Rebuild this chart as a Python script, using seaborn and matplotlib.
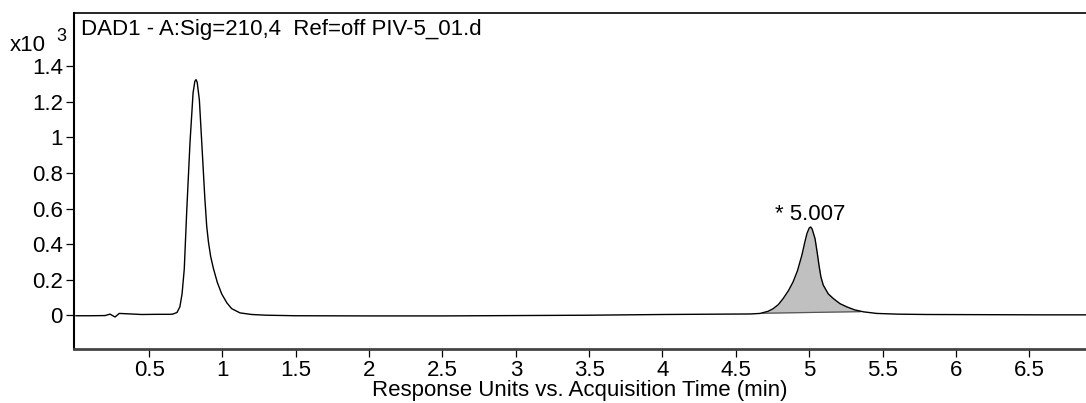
import numpy as np
import pandas as pd
import matplotlib
matplotlib.use("Agg")
import matplotlib.pyplot as plt
from matplotlib.ticker import FuncFormatter
import seaborn as sns

# DAD1 signal at 210 nm (response in x10^3 units) vs. acquisition time (min)
time_min = [0.00, 0.10, 0.20, 0.234, 0.268, 0.297, 0.35, 0.45, 0.55, 0.64,
            0.66, 0.69, 0.71, 0.725, 0.74, 0.757, 0.779, 0.80, 0.812, 0.82,
            0.828, 0.843, 0.866, 0.88, 0.893, 0.905, 0.92, 0.938, 0.965, 0.995, 1.03,
            1.063, 1.12, 1.20, 1.30, 1.50, 2.00, 2.50, 3.00, 3.50, 4.00,
            4.40, 4.60, 4.665, 4.72, 4.755, 4.79, 4.823, 4.86, 4.89, 4.92,
            4.95, 4.97, 4.985, 5.00, 5.01, 5.02, 5.04, 5.055, 5.067, 5.08,
            5.096, 5.13, 5.164, 5.21, 5.256, 5.31, 5.37, 5.46, 5.60, 5.80,
            6.20, 6.60, 6.90]
response = [-0.003, -0.003, -0.002, 0.006, -0.010, 0.010, 0.008, 0.004, 0.005, 0.005,
            0.006, 0.015, 0.047, 0.12, 0.26, 0.59, 0.97, 1.25, 1.315, 1.325,
            1.31, 1.21, 0.87, 0.66, 0.50, 0.41, 0.33, 0.265, 0.185, 0.12, 0.07,
            0.037, 0.013, 0.004, 0.000, -0.003, -0.004, -0.004, -0.002, 0.000, 0.004,
            0.006, 0.007, 0.010, 0.022, 0.037, 0.060, 0.094, 0.14, 0.187, 0.25,
            0.337, 0.41, 0.46, 0.49, 0.496, 0.485, 0.43, 0.35, 0.28, 0.215,
            0.169, 0.12, 0.094, 0.065, 0.047, 0.030, 0.019, 0.010, 0.006, 0.004,
            0.003, 0.002, 0.002]

# integrated peak: start/end of the drawn baseline
peak_start = (4.68, 0.011)
peak_end = (5.35, 0.020)
peak_label = "* 5.007"
peak_rt = 5.007
peak_height = 0.496

x_ticks = [0.5, 1, 1.5, 2, 2.5, 3, 3.5, 4, 4.5, 5, 5.5, 6, 6.5]
y_ticks = [0, 0.2, 0.4, 0.6, 0.8, 1.0, 1.2, 1.4]

FS = 16

sns.set_theme(style="ticks")
plt.rcParams["font.family"] = ["Liberation Sans", "DejaVu Sans"]
plt.rcParams.update({"text.color": "black", "axes.labelcolor": "black",
                     "xtick.color": "black", "ytick.color": "black",
                     "xtick.labelcolor": "black", "ytick.labelcolor": "black"})

df = pd.DataFrame({"time": time_min, "response": response})

fig = plt.figure(figsize=(10.86, 4.03), dpi=100)
ax = fig.add_axes([0.0681, 0.134, 0.9319, 0.834])

# shaded integrated area between the signal and the peak baseline
t = np.array(time_min)
r = np.array(response)
mask = (t >= peak_start[0]) & (t <= peak_end[0])
seg_t = np.concatenate([[peak_start[0]], t[mask], [peak_end[0]]])
seg_r = np.interp(seg_t, t, r)
base = np.interp(seg_t, [peak_start[0], peak_end[0]], [peak_start[1], peak_end[1]])
ax.fill_between(seg_t, base, seg_r, color="#c0c0c0", lw=0)
ax.plot([peak_start[0], peak_end[0]], [peak_start[1], peak_end[1]],
        color="#555555", lw=0.9)

sns.lineplot(data=df, x="time", y="response", ax=ax, color="black",
             lw=1.0, estimator=None, sort=False)

ax.text(peak_rt, peak_height + 0.04, peak_label, ha="center", va="baseline",
        fontsize=FS)

ax.set_xlim(-0.012, 6.887)
ax.set_ylim(-0.19, 1.70)
ax.set_xticks(x_ticks)
ax.set_yticks(y_ticks)
fmt = FuncFormatter(lambda v, p: f"{v:g}")
ax.xaxis.set_major_formatter(fmt)
ax.yaxis.set_major_formatter(fmt)
ax.tick_params(axis="both", labelsize=FS, length=6, width=0.9, color="black",
               direction="out", pad=2)
ax.set_xlabel("Response Units vs. Acquisition Time (min)", fontsize=FS,
              labelpad=-1)
ax.set_ylabel("")

ax.spines["right"].set_visible(False)
ax.spines["top"].set_linewidth(1.2)
ax.spines["left"].set_linewidth(1.5)
ax.spines["bottom"].set_linewidth(2.0)
ax.spines["bottom"].set_color("#444444")
for side in ["top", "left"]:
    ax.spines[side].set_color("black")

ax.text(0.007, 0.982, "DAD1 - A:Sig=210,4  Ref=off PIV-5_01.d",
        transform=ax.transAxes, ha="left", va="top", fontsize=FS)
fig.text(0.009, 0.888, "x10", fontsize=FS, ha="left", va="center")
fig.text(0.052, 0.910, "3", fontsize=FS - 3, ha="left", va="center")

fig.savefig("out.png", dpi=100)
